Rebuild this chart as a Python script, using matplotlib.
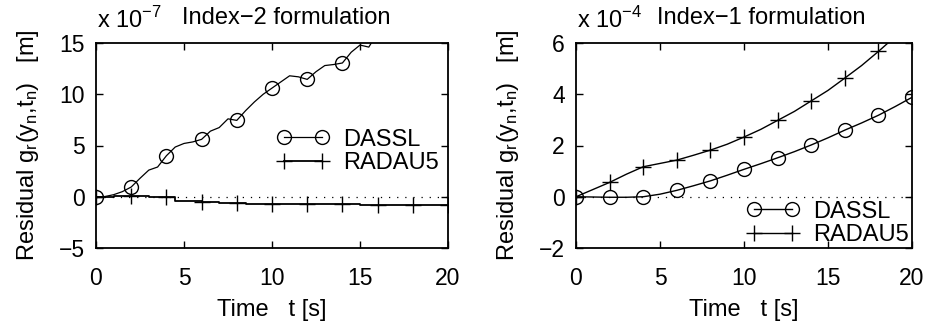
import matplotlib
matplotlib.use("Agg")
import matplotlib.pyplot as plt
import numpy as np

plt.rcParams['font.family'] = ['Liberation Sans', 'DejaVu Sans']
plt.rcParams['mathtext.fontset'] = 'custom'
plt.rcParams['mathtext.rm'] = 'Liberation Sans'
plt.rcParams['font.size'] = 17

# ---- data: Index-2 formulation (units 1e-7 m), sampled every 0.5 s ----
t_left = [i * 0.5 for i in range(41)]
dassl_left = [0, 0.02, 0.2, 0.5, 0.95, 1.8, 2.6, 2.9, 4.0, 4.85, 5.2, 5.35, 5.6,
              6.4, 6.75, 7.6, 7.45, 8.4, 9.25, 10.0, 10.6, 11.2, 11.8, 11.7, 11.45,
              12.2, 12.8, 12.9, 13.05, 14.1, 14.8, 14.6, 16.0, 16.3, 17.0, 17.6,
              18.2, 18.8, 19.3, 19.9, 20.5]
radau_left = [0, 0.02, 0.05, 0.05, 0.08, 0.05, 0.02, 0.0, 0.0, -0.45, -0.45, -0.45,
              -0.5, -0.55, -0.65, -0.65, -0.65, -0.7, -0.7, -0.7, -0.7, -0.7, -0.72,
              -0.72, -0.75, -0.75, -0.75, -0.75, -0.75, -0.75, -0.78, -0.78, -0.78,
              -0.8, -0.8, -0.8, -0.8, -0.8, -0.8, -0.8, -0.8]

# ---- data: Index-1 formulation (units 1e-4 m), sampled every 1 s ----
t_right = list(range(21))
dassl_right = [0, -0.01, -0.02, -0.02, 0.0, 0.1, 0.25, 0.43, 0.62, 0.84, 1.07, 1.29,
               1.52, 1.76, 2.02, 2.3, 2.6, 2.88, 3.18, 3.52, 3.88]
radau_right = [0, 0.28, 0.56, 0.88, 1.17, 1.3, 1.43, 1.62, 1.82, 2.05, 2.33, 2.63,
               2.98, 3.33, 3.74, 4.15, 4.63, 5.12, 5.67, 6.25, 6.9]

xticks = [0, 5, 10, 15, 20]
yticks_left = [-5, 0, 5, 10, 15]
yticks_right = [-2, 0, 2, 4, 6]

W, H = 927, 324
fig = plt.figure(figsize=(W / 100, H / 100), dpi=100)

def fx(px):
    return px / W

def fy(py):
    return 1 - py / H

axL = fig.add_axes([fx(96), fy(248), fx(448 - 96), (248 - 43) / H])
axR = fig.add_axes([fx(576), fy(248), fx(912 - 576), (248 - 43) / H])

ylabel = 'Residual g$\\mathregular{_r}$(y$\\mathregular{_n}$,t$\\mathregular{_n}$)   [m]'

def style(ax, yticks):
    ax.set_xlim(0, 20)
    ax.set_ylim(yticks[0], yticks[-1])
    ax.set_xticks(xticks)
    ax.set_yticks(yticks)
    ax.set_yticklabels([str(v).replace('-', '\u2212') for v in yticks])
    ax.tick_params(direction='in', top=True, right=True, length=5, width=1,
                   labelsize=16.5)
    ax.tick_params(axis='x', pad=14)
    ax.tick_params(axis='y', pad=8)
    for s in ax.spines.values():
        s.set_linewidth(1.3)
    ax.axhline(0, color='black', lw=0.9, linestyle=(0, (1, 5.5)), zorder=1)
    ax.set_xlabel('Time   t [s]', fontsize=17, labelpad=6)
    ax.set_ylabel(ylabel, fontsize=17, labelpad=13)

# Left panel
axL.plot(t_left, dassl_left, color='black', lw=0.9,
         marker='o', markevery=4, markersize=10, markerfacecolor='none',
         markeredgecolor='black', markeredgewidth=1, label='DASSL')
axL.plot(t_left, radau_left, color='black', lw=1.3, drawstyle='steps-post',
         marker='+', markevery=4, markersize=11, markeredgewidth=1, label='RADAU5')
style(axL, yticks_left)
axL.legend(loc='upper left', bbox_to_anchor=(0.48, 0.64), frameon=False,
           numpoints=2, handlelength=2.2, handletextpad=0.6, fontsize=17,
           borderpad=0, labelspacing=0.08)

# Right panel
axR.plot(t_right, dassl_right, color='black', lw=1.0,
         marker='o', markevery=2, markersize=10, markerfacecolor='none',
         markeredgecolor='black', markeredgewidth=1, label='DASSL')
axR.plot(t_right, radau_right, color='black', lw=1.0,
         marker='+', markevery=2, markersize=11, markeredgewidth=1, label='RADAU5')
style(axR, yticks_right)
axR.legend(loc='lower left', bbox_to_anchor=(0.475, -0.05), frameon=False,
           numpoints=2, handlelength=2.2, handletextpad=0.6, fontsize=17,
           borderpad=0, labelspacing=0.08)

# Exponent / titles
fig.text(fx(97), fy(28), 'x 10$^{\\mathregular{\u22127}}$', fontsize=17, va='baseline')
fig.text(fx(182), fy(24), 'Index\u22122 formulation', fontsize=17, va='baseline')
fig.text(fx(577), fy(28), 'x 10$^{\\mathregular{\u22124}}$', fontsize=17, va='baseline')
fig.text(fx(657), fy(24), 'Index\u22121 formulation', fontsize=17, va='baseline')

fig.savefig('out.png', dpi=100)
